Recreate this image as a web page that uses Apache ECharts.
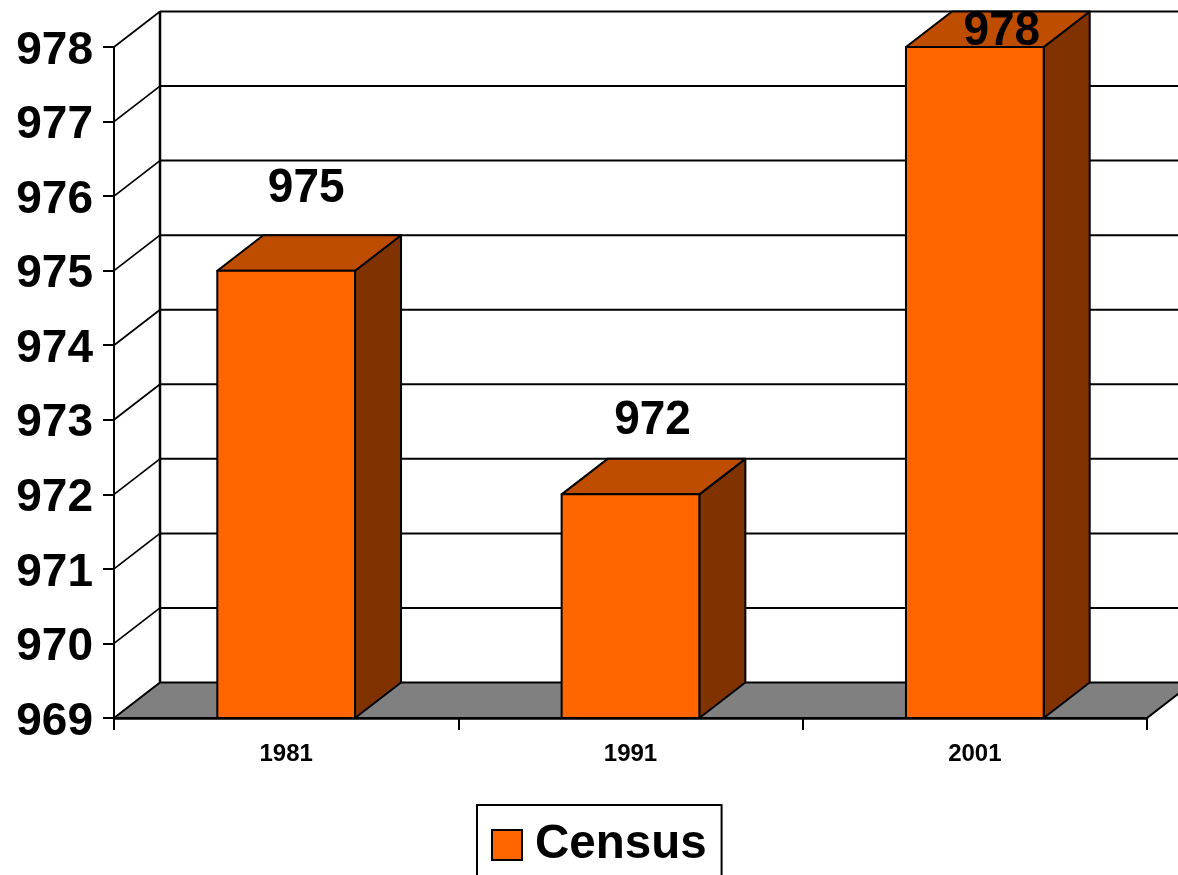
<!DOCTYPE html>
<html>
<head>
<meta charset="utf-8">
<style>html,body{margin:0;padding:0;background:#fff;overflow:hidden}#c{width:1178px;height:875px}</style>
<script src="https://cdn.jsdelivr.net/npm/echarts@6/dist/echarts.min.js"></script>
</head>
<body>
<div id="c"></div>
<script>
const categories = ['1981', '1991', '2001'];
const censusValues = [975, 972, 978];
const seriesName = 'Census';
const wallTicks = [969, 970, 971, 972, 973, 974, 975, 976, 977, 978];

// appearance
const DX = 46, DY = -35.5;
const FONT = '"Liberation Sans", Arial, sans-serif';
const C_FRONT = '#FF6600', C_TOP = '#BF4D00', C_SIDE = '#803300', C_FLOOR = '#808080';
const labelShift = [[20, -82], [22, -74], [27, -15]];

const chart = echarts.init(document.getElementById('c'), null, {renderer: 'canvas'});

function wallItem(params, api) {
  const v = api.value(0);
  const p = api.coord([0, v]);
  const gx = params.coordSys.x, gw = params.coordSys.width;
  const x0 = gx, y0 = p[1];
  const kids = [];
  if (params.dataIndex === 0) {
    kids.push({type: 'polygon', shape: {points: [[x0, y0], [x0 + DX, y0 + DY], [x0 + gw + DX, y0 + DY], [x0 + gw, y0]]},
      style: {fill: C_FLOOR, stroke: '#000', lineWidth: 2}});
    const top = api.coord([0, wallTicks[wallTicks.length - 1]])[1];
    kids.push({type: 'line', shape: {x1: x0 + DX, y1: y0 + DY, x2: x0 + DX, y2: top + DY}, style: {stroke: '#000', lineWidth: 2.5, fill: null}});
  } else {
    kids.push({type: 'line', shape: {x1: x0, y1: y0, x2: x0 + DX, y2: y0 + DY}, style: {stroke: '#000', lineWidth: 1.7, fill: null}});
    kids.push({type: 'line', shape: {x1: x0 + DX, y1: y0 + DY, x2: x0 + gw + DX, y2: y0 + DY}, style: {stroke: '#000', lineWidth: 2, fill: null}});
  }
  return {type: 'group', children: kids};
}

function barItem(params, api) {
  const i = api.value(0), v = api.value(1);
  const c = api.coord([i, v]), b = api.coord([i, wallTicks[0]]);
  const w = api.size([1, 0])[0] * 0.4;
  const l = c[0] - w / 2, r = c[0] + w / 2, t = c[1], bt = b[1];
  const st = {stroke: '#000', lineWidth: 2, lineJoin: 'round'};
  const s = labelShift[params.dataIndex];
  return {type: 'group', children: [
    {type: 'polygon', shape: {points: [[r, t], [r + DX, t + DY], [r + DX, bt + DY], [r, bt]]}, style: Object.assign({fill: C_SIDE}, st)},
    {type: 'polygon', shape: {points: [[l, t], [l + DX, t + DY], [r + DX, t + DY], [r, t]]}, style: Object.assign({fill: C_TOP}, st)},
    {type: 'rect', shape: {x: l, y: t, width: w, height: bt - t}, style: Object.assign({fill: C_FRONT}, st)},
    {type: 'text', x: c[0] + s[0], y: t + s[1], scaleY: 1.06, style: {text: String(v), fill: '#000', font: 'bold 46px ' + FONT, textAlign: 'center', textVerticalAlign: 'middle'}}
  ]};
}

chart.setOption({
  animation: false,
  backgroundColor: '#fff',
  grid: {left: 114, top: 47, width: 1033, height: 671, containLabel: false},
  xAxis: {
    type: 'category', data: categories,
    axisLine: {show: true, lineStyle: {color: '#000', width: 2.5}},
    axisTick: {show: true, length: 12, lineStyle: {color: '#000', width: 2}, alignWithLabel: false},
    axisLabel: {color: '#000', fontFamily: FONT, fontWeight: 'bold', fontSize: 24, margin: 24},
    splitLine: {show: false}
  },
  yAxis: {
    type: 'value', min: 969, max: 978, interval: 1,
    axisLine: {show: true, lineStyle: {color: '#000', width: 2}},
    axisTick: {show: true, length: 11, lineStyle: {color: '#000', width: 2}},
    axisLabel: {color: '#000', fontFamily: FONT, fontWeight: 'bold', fontSize: 46, margin: 21,
      formatter: '{v|{value}}', rich: {v: {color: '#000', fontFamily: FONT, fontWeight: 'bold', fontSize: 46, padding: [8, 0, 0, 0]}}},
    splitLine: {show: false}
  },
  legend: {
    data: [seriesName], left: 477, top: 805, orient: 'horizontal',
    icon: 'rect', itemWidth: 30, itemHeight: 30, itemGap: 0,
    padding: [16, 15, 36, 14], borderColor: '#000', borderWidth: 2, backgroundColor: '#fff',
    textStyle: {color: '#000', fontFamily: FONT, fontWeight: 'bold', fontSize: 47.5, padding: [0, 0, 0, 8]}
  },
  series: [
    {name: 'wall', type: 'custom', coordinateSystem: 'cartesian2d', z: 1, silent: true, clip: false,
     encode: {x: 1, y: 0}, data: wallTicks.map(v => [v, 0]), renderItem: wallItem},
    {name: seriesName, type: 'custom', coordinateSystem: 'cartesian2d', z: 3, clip: false,
     itemStyle: {color: C_FRONT, borderColor: '#000', borderWidth: 2},
     encode: {x: 0, y: 1}, data: censusValues.map((v, i) => [i, v]), renderItem: barItem}
  ]
});
</script>
</body>
</html>
